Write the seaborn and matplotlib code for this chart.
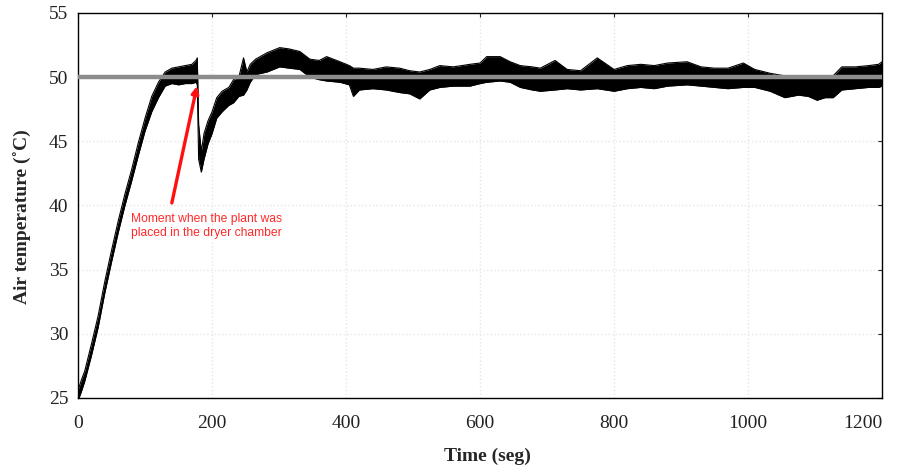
import matplotlib
matplotlib.use('Agg')
import matplotlib.pyplot as plt
import numpy as np
import pandas as pd
import seaborn as sns

# --- data (lower / upper edge of the noisy trace) ---
time_s = [0, 5, 10, 20, 30, 40, 50, 60, 70, 80, 90, 100, 110, 120, 130, 140, 150, 160,
          170, 176, 178, 180, 184, 188, 194, 200, 207, 215, 225, 232, 240, 247, 252, 257,
          265, 282, 301, 315, 331, 346, 360, 371, 391, 405, 411, 420, 440, 460, 480, 495,
          510, 525, 540, 560, 585, 600, 610, 630, 645, 660, 678, 690, 712, 730, 750, 775,
          800, 820, 840, 860, 880, 909, 930, 950, 970, 993, 1010, 1033, 1055, 1075, 1090,
          1103, 1115, 1127, 1140, 1160, 1180, 1195, 1200]
temp_low = [24.8, 25.5, 26.3, 28.3, 30.5, 33.2, 35.6, 37.9, 40.0, 41.9, 43.9, 45.8, 47.3,
            48.4, 49.3, 49.5, 49.4, 49.5, 49.5, 49.6, 49.4, 43.6, 42.6, 43.6, 44.8, 45.6,
            46.8, 47.3, 47.8, 48.0, 48.5, 48.6, 49.0, 49.6, 50.2, 50.4, 50.8, 50.7, 50.6,
            50.0, 49.8, 49.7, 49.6, 49.4, 48.5, 49.0, 49.1, 49.0, 48.8, 48.7, 48.3, 49.0,
            49.2, 49.3, 49.3, 49.5, 49.6, 49.7, 49.6, 49.2, 49.0, 48.9, 49.0, 49.1, 49.0,
            49.1, 48.9, 49.1, 49.2, 49.1, 49.3, 49.4, 49.3, 49.2, 49.1, 49.2, 49.2, 48.9,
            48.4, 48.6, 48.5, 48.2, 48.4, 48.4, 49.0, 49.1, 49.2, 49.2, 49.3]
temp_high = [25.6, 26.4, 27.1, 29.2, 31.4, 34.1, 36.5, 38.8, 40.9, 42.8, 44.9, 46.8, 48.5,
             49.6, 50.4, 50.7, 50.8, 50.9, 51.0, 51.3, 51.5, 46.3, 44.2, 45.6, 46.6, 47.3,
             48.4, 48.9, 49.2, 49.8, 50.0, 51.5, 50.4, 51.0, 51.4, 51.9, 52.3, 52.2, 52.0,
             51.4, 51.3, 51.6, 51.2, 50.9, 50.7, 50.7, 50.6, 50.8, 50.7, 50.5, 50.4, 50.6,
             50.9, 50.8, 51.0, 51.1, 51.6, 51.6, 51.2, 50.9, 50.8, 50.7, 51.3, 50.6, 50.5,
             51.5, 50.6, 50.9, 51.0, 50.9, 51.1, 51.2, 50.8, 50.7, 50.7, 51.1, 50.6, 50.3,
             50.1, 50.0, 50.0, 50.0, 50.0, 50.1, 50.8, 50.8, 50.9, 51.0, 51.2]
setpoint = 50.0
x_ticks = [0, 200, 400, 600, 800, 1000, 1200]
y_ticks = [25, 30, 35, 40, 45, 50, 55]
note = 'Moment when the plant was\nplaced in the dryer chamber'

df = pd.DataFrame({'time': time_s, 'low': temp_low, 'high': temp_high})

sns.set_style('white')
plt.rcParams['font.family'] = ['Liberation Serif', 'DejaVu Serif']

fig = plt.figure(figsize=(8.98, 4.72), dpi=100)
ax = fig.add_axes([0.0869, 0.1568, 0.8953, 0.8157])

# faint dotted grid
for y in [30, 35, 40, 45]:
    ax.axhline(y, color='#e6e6e6', lw=1, ls=':', zorder=0)
for x in [200, 400, 600, 800, 1000]:
    ax.axvline(x, color='#e6e6e6', lw=1, ls=':', zorder=0)

# noisy temperature trace as a black band
ax.fill_between(df['time'], df['low'], df['high'], color='black', lw=0, zorder=2)
sns.lineplot(data=df, x='time', y='low', color='black', lw=0.8, ax=ax, zorder=2)
sns.lineplot(data=df, x='time', y='high', color='black', lw=0.8, ax=ax, zorder=2)

# set point
ax.axhline(setpoint, color='#8c8c8c', lw=3.2, zorder=3)

# annotation
ax.annotate('', xy=(177.5, 49.3), xytext=(140, 40.2),
            arrowprops=dict(arrowstyle='-|>', color='#ff1010', lw=2.4,
                            mutation_scale=10, shrinkA=0, shrinkB=0), zorder=4)
ax.text(79, 39.4, note, color='#ff2a2a', fontsize=8.7, family='Liberation Sans',
        va='top', ha='left', linespacing=1.25)

ax.set_xlim(0, 1200)
ax.set_ylim(25, 55)
ax.set_xticks(x_ticks)
ax.set_yticks(y_ticks)
ax.tick_params(direction='in', length=3, width=0.8, top=True, right=True,
               labelsize=14, colors='#222222')
ax.tick_params(axis='x', pad=12)
ax.tick_params(axis='y', pad=7)
ax.get_xticklabels()[-1].set_ha('right')
ax.get_xticklabels()[-1].set_x(1200)
for s in ax.spines.values():
    s.set_color('black')
    s.set_linewidth(1.0)

ax.set_xlabel('Time (seg)', fontsize=14, fontweight='bold')
ax.set_ylabel('Air temperature (\u02daC)', fontsize=14, fontweight='bold')
ax.xaxis.set_label_coords(0.509, -0.128)
ax.yaxis.set_label_coords(-0.057, 0.47)

fig.savefig('out.png', dpi=100)
